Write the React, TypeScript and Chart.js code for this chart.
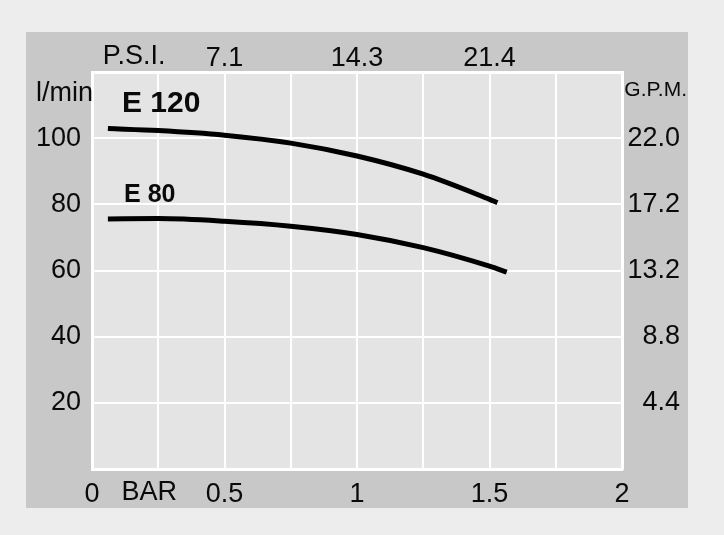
import React, { useEffect, useRef } from "react";
import { Chart, registerables } from "chart.js";

Chart.register(...registerables);

// ---- data ----
const pressureE120 = [0.06, 0.25, 0.5, 0.75, 1.0, 1.25, 1.5, 1.53];
const flowE120 = [102.9, 102.3, 100.9, 98.5, 94.6, 89.1, 81.5, 80.5];
const pressureE80 = [0.06, 0.25, 0.5, 0.75, 1.0, 1.25, 1.5, 1.565];
const flowE80 = [75.6, 75.7, 74.9, 73.4, 70.9, 66.9, 61.3, 59.5];

const barTickValues = [0, 0.5, 1, 1.5, 2];
const barTickLabels = ["0", "0.5", "1", "1.5", "2"];
const psiTickValues = [0.5, 1, 1.5];
const psiTickLabels = ["7.1", "14.3", "21.4"];
const flowTickValues = [20, 40, 60, 80, 100];
const flowTickLabels = ["20", "40", "60", "80", "100"];
const gpmTickLabels = ["4.4", "8.8", "13.2", "17.2", "22.0"];

const seriesNames = ["E 120", "E 80"];

const FONT = "'Liberation Sans', Arial, Helvetica, sans-serif";
const TEXT = "#0a0a0a";

function labelFor(values: number[], labels: string[], v: number) {
  const i = values.findIndex((x) => Math.abs(x - v) < 1e-6);
  return i >= 0 ? labels[i] : "";
}

const textPlugin = {
  id: "textPlugin",
  beforeDraw(chart: any) {
    const { ctx, chartArea: a } = chart;
    ctx.save();
    ctx.fillStyle = "#e4e4e4";
    ctx.fillRect(a.left, a.top, a.right - a.left, a.bottom - a.top);
    ctx.restore();
  },
  afterDraw(chart: any) {
    const { ctx, chartArea: a, scales } = chart;
    const x = scales.x;
    const y = scales.y;
    ctx.save();
    ctx.fillStyle = TEXT;
    ctx.textBaseline = "middle";
    // unit labels
    ctx.font = `27px ${FONT}`;
    ctx.textAlign = "right";
    ctx.fillText("l/min", a.left + 1, y.getPixelForValue(113.5));
    ctx.textAlign = "center";
    ctx.fillText("P.S.I.", x.getPixelForValue(0.159), a.top - 15);
    ctx.fillText("BAR", x.getPixelForValue(0.216), a.bottom + 24);
    ctx.font = `21px ${FONT}`;
    ctx.textAlign = "right";
    ctx.fillText("G.P.M.", a.right + 65, y.getPixelForValue(114.5));
    // series labels
    ctx.textAlign = "left";
    ctx.font = `bold 30px ${FONT}`;
    ctx.fillText(seriesNames[0], x.getPixelForValue(0.113), y.getPixelForValue(110.3));
    ctx.font = `bold 25px ${FONT}`;
    ctx.fillText(seriesNames[1], x.getPixelForValue(0.121), y.getPixelForValue(82.8));
    ctx.restore();
  },
};

export default function App() {
  const ref = useRef<HTMLCanvasElement | null>(null);

  useEffect(() => {
    if (!ref.current) return;
    const tickFont = { family: FONT, size: 27 };
    const chart = new Chart(ref.current, {
      type: "line",
      data: {
        datasets: [
          {
            label: seriesNames[0],
            data: pressureE120.map((p, i) => ({ x: p, y: flowE120[i] })),
            borderColor: "#000",
            borderWidth: 5,
            pointRadius: 0,
            cubicInterpolationMode: "monotone",
            borderCapStyle: "butt",
          },
          {
            label: seriesNames[1],
            data: pressureE80.map((p, i) => ({ x: p, y: flowE80[i] })),
            borderColor: "#000",
            borderWidth: 5,
            pointRadius: 0,
            cubicInterpolationMode: "monotone",
            borderCapStyle: "butt",
          },
        ],
      },
      options: {
        animation: false,
        responsive: true,
        maintainAspectRatio: false,
        layout: { padding: { left: 0, right: 8, top: 0, bottom: 0 } },
        plugins: { legend: { display: false }, tooltip: { enabled: false } },
        scales: {
          x: {
            type: "linear",
            position: "bottom",
            min: 0,
            max: 2,
            afterFit: (s: any) => {
              s.height = 39;
            },
            ticks: {
              stepSize: 0.25,
              autoSkip: false,
              maxRotation: 0,
              padding: 9,
              color: TEXT,
              font: tickFont,
              callback: (v: any) => labelFor(barTickValues, barTickLabels, Number(v)),
            },
            grid: { color: "#ffffff", lineWidth: 2, drawTicks: false },
            border: { color: "#ffffff", width: 3 },
          },
          x2: {
            type: "linear",
            position: "top",
            min: 0,
            max: 2,
            afterFit: (s: any) => {
              s.height = 40;
            },
            ticks: {
              stepSize: 0.5,
              autoSkip: false,
              maxRotation: 0,
              padding: -3,
              color: TEXT,
              font: tickFont,
              callback: (v: any) => labelFor(psiTickValues, psiTickLabels, Number(v)),
            },
            grid: { display: false, drawTicks: false },
            border: { color: "#ffffff", width: 3 },
          },
          y: {
            type: "linear",
            position: "left",
            min: 0,
            max: 120,
            afterFit: (s: any) => {
              s.width = 66;
            },
            ticks: {
              stepSize: 20,
              autoSkip: false,
              padding: 11,
              color: TEXT,
              font: tickFont,
              callback: (v: any) => labelFor(flowTickValues, flowTickLabels, Number(v)),
            },
            grid: { color: "#ffffff", lineWidth: 2, drawTicks: false },
            border: { color: "#ffffff", width: 3 },
          },
          y2: {
            type: "linear",
            position: "right",
            min: 0,
            max: 120,
            afterFit: (s: any) => {
              s.width = 58;
            },
            ticks: {
              stepSize: 20,
              autoSkip: false,
              padding: 4,
              crossAlign: "far",
              color: TEXT,
              font: tickFont,
              callback: (v: any) => labelFor(flowTickValues, gpmTickLabels, Number(v)),
            },
            grid: { display: false, drawTicks: false },
            border: { color: "#ffffff", width: 3 },
          },
        },
      },
      plugins: [textPlugin],
    } as any);
    return () => chart.destroy();
  }, []);

  return (
    <div style={{ position: "absolute", left: 0, top: 0, width: 724, height: 535, background: "#ededed" }}>
      <div style={{ position: "absolute", left: 26, top: 32, width: 662, height: 476, background: "#c8c8c9" }}>
        <canvas ref={ref} />
      </div>
    </div>
  );
}
